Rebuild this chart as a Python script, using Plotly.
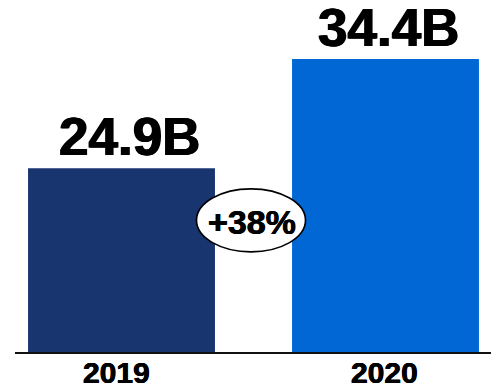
import plotly.graph_objects as go

# Revenue by year (billions)
years = ["2019", "2020"]
revenue = [24.9, 34.4]
bar_colors = ["#183570", "#0067D5"]

positions = list(range(len(years)))
growth = (revenue[1] / revenue[0] - 1) * 100

FONT = "Liberation Sans, Arial, sans-serif"
HEAVY = "0.7px 0 0 #000, -0.7px 0 0 #000"
SEMI = "0.4px 0 0 #000, -0.4px 0 0 #000"

fig = go.Figure(
    go.Bar(
        x=positions,
        y=revenue,
        width=0.708,
        marker=dict(color=bar_colors, line=dict(width=0)),
        hoverinfo="skip",
    )
)

# value labels above each bar
label_shift = [8, 3]
for xi, v, dx in zip(positions, revenue, label_shift):
    fig.add_annotation(
        x=xi, y=v, text=f"{v:.1f}B", showarrow=False,
        xanchor="center", yanchor="bottom", xshift=dx, yshift=0,
        font=dict(family=FONT, size=53, color="#000000", weight=700, shadow=HEAVY),
    )

# year labels under the baseline
year_shift = [-5, -1]
for xi, yr, dx in zip(positions, years, year_shift):
    fig.add_annotation(
        x=xi, y=0, xref="x", yref="paper", text=yr, showarrow=False,
        xanchor="center", yanchor="top", xshift=dx, yshift=-2,
        font=dict(family=FONT, size=30, color="#000000", weight=700, shadow=SEMI),
    )

# growth badge between the bars
mid_x = (positions[0] + positions[1]) / 2
badge_y = 20.4
fig.add_shape(
    type="circle", xref="x", yref="y",
    xsizemode="pixel", ysizemode="pixel",
    xanchor=mid_x, yanchor=badge_y,
    x0=-57, x1=52, y0=-32, y1=31,
    line=dict(color="#000000", width=1.6),
    fillcolor="#FFFFFF", layer="above",
)
fig.add_annotation(
    x=mid_x, y=badge_y, text=f"+{growth:.0f}%", showarrow=False,
    xanchor="center", yanchor="middle", xshift=-2, yshift=-2,
    font=dict(family=FONT, size=34, color="#000000", weight=700, shadow=SEMI),
)

fig.update_layout(
    width=491, height=391,
    margin=dict(l=15, r=0, t=0, b=39),
    paper_bgcolor="#FFFFFF", plot_bgcolor="#FFFFFF",
    showlegend=False,
    xaxis=dict(
        range=[-0.4034, 1.3996],
        tickvals=positions, showticklabels=False,
        showgrid=False, zeroline=False,
        showline=True, linecolor="#111111", linewidth=1.5,
        ticks="",
    ),
    yaxis=dict(
        range=[8.9, 39.53],
        visible=False, showgrid=False, zeroline=False,
    ),
)

fig.write_html("out.html")
